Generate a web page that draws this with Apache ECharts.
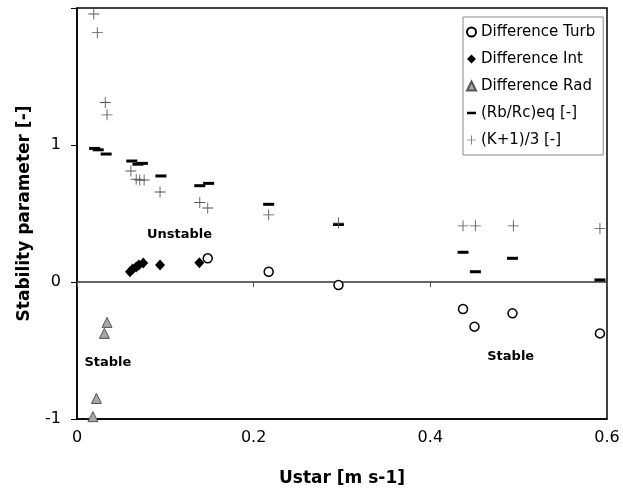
<!DOCTYPE html>
<html>
<head>
<meta charset="utf-8">
<script src="https://cdn.jsdelivr.net/npm/echarts@6/dist/echarts.min.js"></script>
<style>
html, body { margin: 0; padding: 0; background: #fff; }
#chart { width: 623px; height: 499px; }
</style>
</head>
<body>
<div id="chart"></div>
<script>
var FONT = 'DejaVu Sans';

// Difference Turb (open circles)
var turb = [[0.148, 0.173], [0.217, 0.075], [0.296, -0.022], [0.437, -0.197],
            [0.450, -0.326], [0.493, -0.229], [0.592, -0.375]];
// Difference Int (black diamonds)
var intr = [[0.060, 0.075], [0.063, 0.095], [0.067, 0.110], [0.070, 0.124],
            [0.075, 0.139], [0.094, 0.124], [0.1385, 0.140]];
// Difference Rad (grey triangles)
var rad = [[0.034, -0.295], [0.031, -0.375], [0.022, -0.850], [0.018, -0.983]];
// (Rb/Rc)eq [-] (dashes)
var rbrc = [[0.020, 0.975], [0.024, 0.965], [0.033, 0.934], [0.062, 0.883],
            [0.069, 0.860], [0.074, 0.866], [0.095, 0.774], [0.139, 0.703],
            [0.149, 0.720], [0.217, 0.567], [0.296, 0.420], [0.437, 0.217],
            [0.451, 0.075], [0.493, 0.173], [0.592, 0.015]];
// (K+1)/3 [-] (plus signs)
var kplus = [[0.019, 1.956], [0.023, 1.820], [0.032, 1.310], [0.034, 1.220],
             [0.061, 0.810], [0.067, 0.750], [0.071, 0.745], [0.076, 0.745],
             [0.094, 0.657], [0.139, 0.580], [0.148, 0.540], [0.217, 0.490],
             [0.296, 0.430], [0.437, 0.410], [0.451, 0.410], [0.494, 0.410],
             [0.592, 0.390]];

var names = ['Difference Turb', 'Difference Int', 'Difference Rad', '(Rb/Rc)eq [-]', '(K+1)/3 [-]'];
var notes = [['Unstable', 0.116, 0.343], ['Stable', 0.035, -0.59], ['Stable', 0.491, -0.545]];

var plusPath = 'path://M4.6,0h0.8v10h-0.8z M0,4.6h10v0.8h-10z';
var dashIcon = 'path://M0,0 M0,3.6h10v2.8h-10z M10,10';

var chart = echarts.init(document.getElementById('chart'));

var option = {
    backgroundColor: '#fff',
    animation: false,
    grid: {
        left: 77, right: 16, top: 8, bottom: 80,
        show: true, borderColor: '#000', borderWidth: 1.5
    },
    legend: {
        orient: 'vertical',
        left: 463, top: 17,
        padding: [7, 8, 7, 3],
        itemGap: 11,
        itemWidth: 9, itemHeight: 9,
        backgroundColor: '#fff',
        borderColor: '#888', borderWidth: 1,
        textStyle: { fontFamily: FONT, fontSize: 15, color: '#000', lineHeight: 16 },
        data: [
            { name: names[0] },
            { name: names[1] },
            { name: names[2] },
            { name: names[3], icon: dashIcon },
            { name: names[4] }
        ]
    },
    xAxis: [{
        type: 'value', min: 0, max: 0.6, interval: 0.2,
        position: 'bottom',
        name: 'Ustar [m s-1]', nameLocation: 'middle', nameGap: 51,
        nameTextStyle: { fontFamily: FONT, fontSize: 17, fontWeight: 'bold', color: '#000' },
        axisLine: { onZero: false, lineStyle: { color: '#000', width: 1.5 } },
        axisTick: { show: false },
        axisLabel: { fontFamily: FONT, fontSize: 16, color: '#000', margin: 11 },
        splitLine: { show: false }
    }, {
        type: 'value', min: 0, max: 0.6, interval: 0.2,
        position: 'bottom',
        axisLine: { onZero: true, onZeroAxisIndex: 0, lineStyle: { color: '#333', width: 1.5 } },
        axisTick: { show: true, length: 5, lineStyle: { color: '#555' } },
        axisLabel: { show: false },
        splitLine: { show: false }
    }],
    yAxis: {
        type: 'value', min: -1, max: 2, interval: 1,
        name: 'Stability parameter [-]', nameLocation: 'middle', nameGap: 44,
        nameTextStyle: { fontFamily: FONT, fontSize: 17, fontWeight: 'bold', color: '#000' },
        axisLine: { show: true, onZero: false, lineStyle: { color: '#000', width: 1.5 } },
        axisTick: { show: true, length: 6, lineStyle: { color: '#000' } },
        axisLabel: {
            fontFamily: FONT, fontSize: 16, color: '#000', margin: 16,
            formatter: function (v) { return v === 2 ? '' : String(v); }
        },
        splitLine: { show: false }
    },
    series: [{
        name: names[3], type: 'scatter', data: rbrc,
        symbol: 'rect', symbolSize: [11, 3],
        itemStyle: { color: '#000', opacity: 1 }
    }, {
        name: names[4], type: 'scatter', data: kplus,
        symbol: plusPath, symbolSize: 11,
        itemStyle: { color: '#555', opacity: 1 }
    }, {
        name: names[1], type: 'scatter', data: intr,
        symbol: 'diamond', symbolSize: [10, 11],
        itemStyle: { color: '#000', opacity: 1 }
    }, {
        name: names[2], type: 'scatter', data: rad,
        symbol: 'triangle', symbolSize: 10,
        itemStyle: { color: '#a6a6a6', borderColor: '#555', borderWidth: 1, opacity: 1 }
    }, {
        name: names[0], type: 'scatter', data: turb,
        symbol: 'circle', symbolSize: 9,
        itemStyle: { color: '#fff', borderColor: '#000', borderWidth: 1.5, opacity: 1 },
        markPoint: {
            symbol: 'circle', symbolSize: 0,
            label: {
                show: true, position: 'inside', formatter: '{b}',
                fontFamily: FONT, fontSize: 13, fontWeight: 'bold', color: '#000'
            },
            data: notes.map(function (n) { return { name: n[0], coord: [n[1], n[2]] }; })
        }
    }]
};

chart.setOption(option);
</script>
</body>
</html>
